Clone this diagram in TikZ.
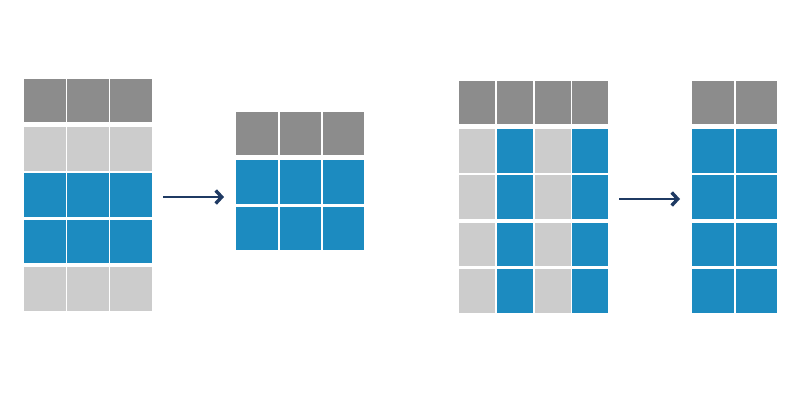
\documentclass[tikz,border=0pt]{standalone}
\usetikzlibrary{arrows.meta, positioning}
\definecolor{hdrgray}{HTML}{8C8C8C}
\definecolor{litegray}{HTML}{CCCCCC}
\definecolor{cellblue}{HTML}{1C8BC0}
\definecolor{navy}{HTML}{1F3A63}
\tikzstyle{cell} = [rectangle, inner sep=0pt, draw=none, minimum height=43.5pt]
\tikzstyle{wide} = [cell, minimum width=41.5pt]
\tikzstyle{narrow} = [cell, minimum width=36pt]
\tikzstyle{arrow} = [line width=2.2pt, draw=navy, ->, >={Straight Barb[length=6pt,width=13pt,line width=3.4pt]}]
\begin{document}
\begin{tikzpicture}[x=1pt, y=-1pt]
\useasboundingbox (0,0) rectangle (800,400);

% Tabla filtrada por filas
\foreach \c/\x in {1/45, 2/88, 3/131}{
  \foreach \r/\y/\col in {0/100.5/hdrgray, 1/149/litegray, 2/195/cellblue, 3/241.5/cellblue, 4/289/litegray}
    \node (rows-\r-\c) [wide, fill=\col] at (\x,\y) {};
}
\foreach \c/\x in {1/257, 2/300.5, 3/343.5}{
  \foreach \r/\y/\col in {0/133.5/hdrgray, 1/182/cellblue, 2/228.5/cellblue}
    \node (rowsout-\r-\c) [wide, fill=\col] at (\x,\y) {};
}

% Tabla filtrada por columnas
\foreach \c/\x/\col in {1/477/litegray, 2/514.5/cellblue, 3/552.5/litegray, 4/590/cellblue}{
  \node (cols-0-\c) [narrow, fill=hdrgray] at (\x,102.5) {};
  \foreach \r/\y in {1/151, 2/197, 3/244.5, 4/291}
    \node (cols-\r-\c) [narrow, fill=\col] at (\x,\y) {};
}
\foreach \c/\x in {1/713, 2/756.5}{
  \node (colsout-0-\c) [wide, fill=hdrgray] at (\x,102.5) {};
  \foreach \r/\y in {1/151, 2/197, 3/244.5, 4/291}
    \node (colsout-\r-\c) [wide, fill=cellblue] at (\x,\y) {};
}

% Flechas
\coordinate (rowsarrow-start) at (163,197);
\coordinate (rowsarrow-end) at (224,197);
\coordinate (colsarrow-start) at (619,199);
\coordinate (colsarrow-end) at (680,199);
\draw [arrow] (rowsarrow-start) -- (rowsarrow-end);
\draw [arrow] (colsarrow-start) -- (colsarrow-end);

\end{tikzpicture}
\end{document}
